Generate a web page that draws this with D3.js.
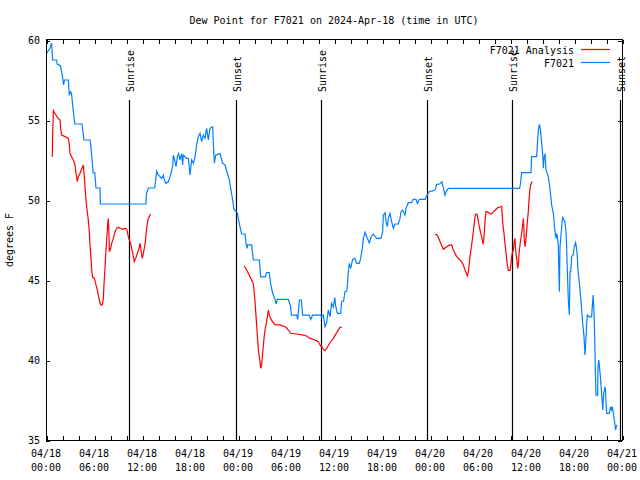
<!DOCTYPE html>
<html><head><meta charset="utf-8">
<script src="https://cdn.jsdelivr.net/npm/d3@7"></script>
<style>
body{margin:0;background:#fff;}
svg{display:block;}
text{font-family:"DejaVu Sans Mono",monospace;font-size:10px;fill:#000;}
</style></head>
<body><svg id="c" width="640" height="480"></svg>
<script>
const title = "Dew Point for F7021 on 2024-Apr-18 (time in UTC)";
const yLabel = "degrees F";
const seriesNames = ["F7021 Analysis", "F7021"];
const seriesColors = ["#ff0000", "#0080ff"];
const yTicks = [35, 40, 45, 50, 55, 60];
const xMajorHours = [0, 6, 12, 18, 24, 30, 36, 42, 48, 54, 60, 66, 72];
const xTickDates = ["04/18","04/18","04/18","04/18","04/19","04/19","04/19","04/19","04/20","04/20","04/20","04/20","04/21"];
const xTickTimes = ["00:00","06:00","12:00","18:00","00:00","06:00","12:00","18:00","00:00","06:00","12:00","18:00","00:00"];
const sunEventHours = [10.4, 23.7, 34.42, 47.67, 58.29, 71.8];
const sunEventNames = ["Sunrise","Sunset","Sunrise","Sunset","Sunrise","Sunset"];

// F7021 observations (hours since 04/18 00:00 UTC)
const obsHours = [0.08,0.5,0.7,0.83,1.33,1.4,1.8,2.0,2.2,2.3,2.8,2.9,3.08,3.2,3.4,3.6,4.5,4.75,5.5,5.6,5.9,6.1,6.25,6.75,6.8,12.5,12.55,12.8,13.6,13.75,13.83,14.04,14.25,14.46,14.67,14.79,15.0,15.29,15.5,15.63,15.83,15.92,16.04,16.25,16.42,16.58,16.75,16.96,17.08,17.17,17.58,17.8,18.0,18.21,18.42,18.63,18.83,19.04,19.25,19.46,19.67,19.88,20.08,20.29,20.5,20.83,20.92,21.04,21.21,21.75,22.08,22.375,22.67,22.92,23.13,23.33,23.5,23.92,24.04,24.25,24.46,24.875,25.0,25.15,25.2,25.7,25.92,26.67,26.83,27.4,27.58,27.9,28.08,28.33,28.63,28.75,28.92,30.29,30.58,30.67,31.33,31.46,31.67,31.92,32.08,32.9,33.1,33.33,34.33,34.46,34.67,34.875,35.08,35.29,35.5,35.7,35.9,36.1,36.2,36.42,36.83,36.96,37.2,37.375,37.6,37.67,37.8,37.92,38.08,38.33,38.6,38.83,39.17,39.33,39.54,39.67,39.875,40.08,40.42,40.625,40.9,41.33,41.875,42.08,42.17,42.375,42.5,42.67,42.79,43.0,43.2,43.42,43.625,44.04,44.25,44.375,44.58,44.875,45.0,45.17,45.29,45.7,45.9,46.25,46.42,46.67,47.375,47.58,47.9,48.5,48.7,48.83,49.2,49.5,49.6,49.875,50.0,50.29,59.2,59.3,59.46,60.625,60.7,61.33,61.42,61.54,61.67,61.8,61.96,62.08,62.17,62.25,62.375,62.5,62.79,63.0,63.125,63.2,63.42,63.6,63.75,63.85,63.95,64.04,64.125,64.17,64.25,64.45,64.58,64.7,64.875,65.0,65.08,65.17,65.29,65.42,65.5,65.6,65.7,65.9,66.04,66.2,66.3,66.4,66.5,66.67,66.83,66.96,67.08,67.25,67.375,67.45,67.58,67.67,67.9,68.2,68.33,68.4,68.54,68.67,68.75,68.95,69.0,69.1,69.3,69.4,69.6,69.7,69.9,70.08,70.4,70.58,70.7,70.8,70.92,71.1,71.2,71.33];
const obsValues = [59.17,59.5,59.8,58.75,58.75,58.5,58.4,57.9,57.2,57.5,57.5,56.6,56.77,56.6,55.6,54.75,54.75,53.75,53.75,53.4,51.7,51.7,50.75,50.75,49.75,49.75,50.4,50.75,50.75,51.45,51.8,51.56,51.46,51.35,51.56,51.25,51.04,51.15,51.46,51.67,52.08,52.8,52.6,52.08,52.7,52.9,52.5,52.9,52.19,52.8,52.6,52.6,51.56,52.5,52.3,52.7,53.44,53.96,54.17,53.65,54.06,53.85,54.48,53.75,54.48,54.58,53.54,52.3,52.8,52.9,52.29,52.2,51.67,51.25,50.6,50.0,49.4,49.2,48.85,48.33,47.875,47.875,47.3,46.98,47.19,47.19,46.25,46.25,45.2,45.2,45.46,45.46,44.79,44.17,43.79,43.5,43.79,43.79,43.33,42.81,42.81,42.54,43.75,43.75,42.81,42.81,42.54,42.81,42.81,42.67,42.81,42.08,42.33,43.125,42.7,43.54,43.3,43.9,43.4,42.92,42.92,43.65,43.7,44.27,44.3,44.69,45.52,46.04,45.73,46.29,46.35,46.04,46.04,46.35,46.98,47.6,47.98,47.7,47.33,47.67,47.875,47.6,47.6,48.02,49.06,49.2,48.65,48.33,48.85,49.17,48.65,48.23,48.5,48.5,48.85,49.27,49.375,49.06,49.48,49.69,49.83,49.83,50.04,50.04,49.79,50.04,50.04,50.25,50.52,50.6,50.7,50.98,51.0,51.15,50.9,50.3,50.5,50.73,50.73,51.0,51.71,51.71,52.71,52.71,53.44,54.375,54.73,54.4,53.54,52.92,51.98,52.6,52.9,51.875,51.45,50.7,50.1,49.69,49.17,48.125,47.6,47.9,47.6,47.08,45.2,44.27,47.08,48.23,48.96,48.8,48.6,48.02,47.08,45.52,43.75,42.81,45.52,45.52,46.46,46.56,47.08,47.33,47.08,46.56,45.625,44.79,43.96,43.125,42.29,41.46,40.31,40.9,42.29,42.81,42.7,42.7,43.65,44.06,42.5,39.375,37.81,37.81,39.58,40.0,38.96,38.23,36.875,37.9,38.33,36.67,36.67,37.08,36.875,37.08,36.67,36.04,35.625,35.94];

// F7021 Analysis (null = gap)
const anaHours = [0.79,0.83,0.92,1.1,1.52,1.75,1.83,1.96,2.375,2.79,2.92,3.0,3.2,3.42,3.625,3.75,3.92,4.04,4.25,4.46,4.67,4.79,4.92,5.0,5.08,5.29,5.42,5.5,5.625,5.71,5.83,6.04,6.25,6.42,6.54,6.67,6.83,7.04,7.17,7.25,7.375,7.46,7.58,7.71,7.79,7.875,7.92,8.08,8.21,8.42,8.625,8.83,9.04,9.25,9.67,9.875,10.08,10.17,10.29,10.42,10.58,10.79,10.92,11.04,11.21,11.42,11.625,11.75,11.875,12.04,12.17,12.29,12.42,12.58,12.67,12.79,13.0,13.08,
  18.0,
  24.79,25.08,25.4,25.7,25.92,26.04,26.125,26.33,26.54,26.75,26.83,26.96,27.08,27.25,27.375,27.58,27.79,27.92,28.125,28.33,28.625,29.25,29.875,30.08,30.29,30.58,31.33,32.17,32.58,33.0,33.625,34.04,34.25,34.46,34.67,34.875,35.08,35.5,35.92,36.33,36.75,36.96,
  42.0,
  48.625,48.92,49.25,49.67,50.08,50.5,50.71,50.92,51.33,51.75,51.85,52.17,52.375,52.67,52.79,53.0,53.2,53.42,53.625,53.75,53.9,54.04,54.25,54.46,54.58,54.67,54.75,54.875,55.0,55.17,55.42,55.7,55.92,56.25,56.54,56.83,56.96,57.08,57.25,57.375,57.5,57.67,57.79,58.0,58.125,58.25,58.42,58.54,58.625,58.7,58.83,58.96,59.05,59.17,59.33,59.46,59.6,59.67,59.73,59.79,59.9,60.0,60.1,60.17,60.29,60.375,60.46,60.58,60.79];
const anaValues = [52.71,54.125,55.58,55.42,55.1,55.0,54.48,54.06,53.96,53.85,53.44,52.92,52.7,52.5,52.19,51.67,51.15,51.46,51.67,51.92,52.19,51.46,50.52,50.0,49.58,48.75,48.02,47.19,46.35,45.625,45.17,45.1,44.69,44.375,44.06,43.75,43.44,43.44,43.85,44.75,45.73,46.56,47.5,48.44,48.85,47.8,46.77,46.98,47.29,47.6,48.02,48.23,48.3,48.23,48.17,48.23,48.17,48.02,47.71,47.5,47.29,46.77,46.46,46.15,46.35,46.67,46.98,47.29,46.875,46.35,46.67,47.0,47.4,48.23,48.54,48.85,49.06,49.125,
  null,
  45.875,45.625,45.31,45.0,44.75,44.17,43.65,42.19,40.625,39.9,39.48,39.7,40.42,41.35,41.875,42.4,43.125,42.8,42.54,42.4,42.19,42.19,42.08,42.0,41.875,41.67,41.625,41.56,41.5,41.35,41.25,41.15,40.94,40.83,40.67,40.58,40.73,41.08,41.35,41.71,42.04,42.04,
  null,
  47.875,47.8,47.4,46.92,47.08,47.19,47.19,46.875,46.46,46.25,46.2,45.94,45.625,45.25,45.52,46.46,47.19,48.02,48.96,49.125,49.1,48.65,48.125,47.71,47.4,47.23,47.7,48.65,49.27,49.27,49.17,49.125,49.27,49.42,49.54,49.58,49.6,48.6,47.92,47.29,46.67,45.94,45.6,45.6,46.04,46.6,46.875,47.4,47.6,46.9,46.35,45.73,46.0,46.875,47.5,47.92,48.5,48.85,48.3,47.5,47.08,47.6,48.2,48.65,49.27,50.0,50.52,50.94,51.15];

const svg = d3.select("#c");
const L = 46, R = 622, T = 40, B = 440;
const x = d3.scaleLinear().domain([0, 72]).range([L, R]);
const y = d3.scaleLinear().domain([35, 60]).range([B, T]);

// title
svg.append("text").attr("x", (L + R) / 2).attr("y", 24).attr("text-anchor", "middle").text(title);
// y label
svg.append("text").attr("transform", "translate(13,240) rotate(-90)").attr("text-anchor", "middle").text(yLabel);

const minorHours = d3.range(0, 73, 2);
function styleAxis(g) {
  g.select(".domain").remove();
  g.selectAll("line").attr("stroke", "#000").attr("shape-rendering", "crispEdges");
}
// bottom ticks
svg.append("g").attr("transform", `translate(0.5,${B})`)
  .call(d3.axisBottom(x).tickValues(minorHours).tickSize(-4).tickFormat(""))
  .call(styleAxis);
svg.append("g").attr("transform", `translate(0.5,${T})`)
  .call(d3.axisTop(x).tickValues(minorHours).tickSize(-4).tickFormat(""))
  .call(styleAxis);
svg.append("g").attr("transform", `translate(${L},0.5)`)
  .call(d3.axisLeft(y).tickValues(yTicks).tickSize(-4).tickFormat(""))
  .call(styleAxis);
svg.append("g").attr("transform", `translate(${R},0.5)`)
  .call(d3.axisRight(y).tickValues(yTicks).tickSize(-4).tickFormat(""))
  .call(styleAxis);

// x labels
const xl = svg.append("g");
xMajorHours.forEach((h, i) => {
  const t = xl.append("text").attr("text-anchor", "middle");
  t.append("tspan").attr("x", x(h)).attr("y", 457).text(xTickDates[i]);
  t.append("tspan").attr("x", x(h)).attr("y", 471).text(xTickTimes[i]);
});
// y labels
yTicks.forEach(v => {
  svg.append("text").attr("x", 40).attr("y", y(v) + 4).attr("text-anchor", "end").text(v);
});

// sun events
sunEventHours.forEach((h, i) => {
  const xx = Math.round(x(h)) + 0.5;
  svg.append("line").attr("x1", xx).attr("x2", xx).attr("y1", 100).attr("y2", B)
    .attr("stroke", "#000").attr("stroke-width", 1.2);
  svg.append("text").attr("transform", `translate(${xx + 4},92) rotate(-90)`)
    .attr("text-anchor", "start").text(sunEventNames[i]);
});

// lines
const ana = anaHours.map((h, i) => ({h, v: anaValues[i]}));
const obs = obsHours.map((h, i) => ({h, v: obsValues[i]}));
const line = d3.line().defined(d => d.v !== null).x(d => x(d.h)).y(d => y(d.v));
svg.append("path").datum(ana).attr("d", line).attr("fill", "none").attr("stroke", seriesColors[0]).attr("stroke-width", 1.2);
svg.append("path").datum(obs).attr("d", line).attr("fill", "none").attr("stroke", seriesColors[1]).attr("stroke-width", 1.2);

// frame
svg.append("rect").attr("x", L + 0.5).attr("y", T - 0.5).attr("width", R - L).attr("height", B - T + 1)
  .attr("fill", "none").attr("stroke", "#000").attr("shape-rendering", "crispEdges");

// legend
[0, 1].forEach(i => {
  const yy = 50 + i * 13;
  svg.append("text").attr("x", 574).attr("y", yy + 3.5).attr("text-anchor", "end").text(seriesNames[i]);
  svg.append("line").attr("x1", 581).attr("x2", 610).attr("y1", yy - 0.5).attr("y2", yy - 0.5)
    .attr("stroke", seriesColors[i]).attr("stroke-width", 1.2);
});
</script></body></html>
